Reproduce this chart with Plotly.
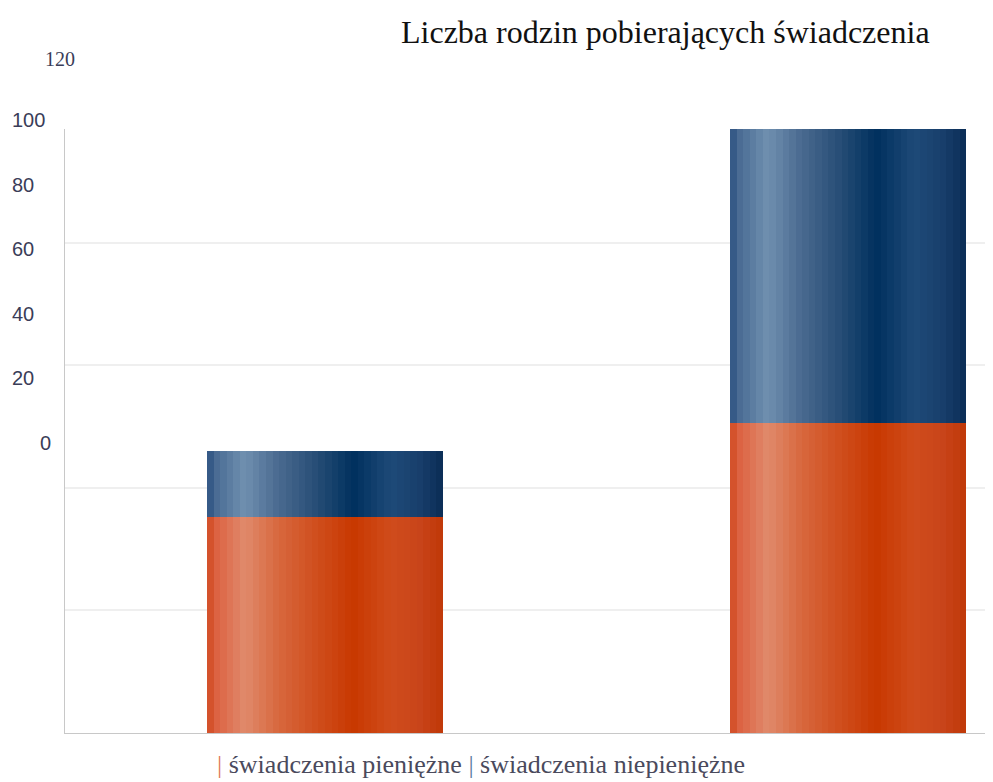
import plotly.graph_objects as go

# ---- data ----
categories = ["okres 1", "okres 2"]
series_names = ["świadczenia pieniężne", "świadczenia niepieniężne"]
values_pieniezne = [35.3, 50.6]
values_niepieniezne = [10.7, 48.0]
tick_values = [0, 20, 40, 60, 80, 100]
tick_labels = ["0", "20", "40", "60", "80", "100"]
extra_tick_label = "120"
title_text = "Liczba rodzin pobierających świadczenia"

# ---- styling (screen pixels; page body has an 8px margin) ----
OFF = 8
W, H = 993 - OFF, 782 - OFF
ML = 65 - OFF
MR = 0
MT = 50 - OFF
MB = H - (733 - OFF)
plot_w = W - ML - MR
plot_h = H - MT - MB
main_top_px = 129
label0_px, label100_px = 443, 120


def paper_y(px):
    return (H - MB - (px - OFF)) / plot_h


def paper_x(px):
    return (px - OFF - ML) / plot_w


orange_stops = [(0.00, "#d04a20"), (0.04, "#dc6242"), (0.16, "#e08a6c"),
                (0.30, "#d8683e"), (0.45, "#d05020"), (0.62, "#c83800"),
                (0.78, "#d04c1c"), (0.90, "#c8441a"), (1.00, "#c03808")]
blue_stops = [(0.00, "#2c5080"), (0.04, "#4a6c94"), (0.16, "#7090b0"),
              (0.30, "#4a6a90"), (0.45, "#2a5078"), (0.62, "#00305e"),
              (0.78, "#1e4a78"), (0.90, "#183f6c"), (1.00, "#0a2c55")]
legend_colors = ["#e07a5a", "#5a7aa0"]


def hex2rgb(h):
    h = h.lstrip("#")
    return tuple(int(h[i:i + 2], 16) for i in (0, 2, 4))


def interp(stops, t):
    for (t0, c0), (t1, c1) in zip(stops[:-1], stops[1:]):
        if t0 <= t <= t1:
            f = 0 if t1 == t0 else (t - t0) / (t1 - t0)
            a, b = hex2rgb(c0), hex2rgb(c1)
            return "rgb(%d,%d,%d)" % tuple(round(a[k] + (b[k] - a[k]) * f) for k in range(3))
    return stops[-1][1]


bar_w = 0.451
N = 36
fig = go.Figure()
bases = [0] * len(categories)
for vals, stops in [(values_pieniezne, orange_stops), (values_niepieniezne, blue_stops)]:
    for i in range(N):
        t = (i + 0.5) / N
        fig.add_trace(go.Bar(
            x=categories, y=vals, base=bases,
            offset=-bar_w / 2 + i * bar_w / N, width=bar_w / N * 1.02,
            marker=dict(color=interp(stops, t), line=dict(width=0)),
            showlegend=False, hoverinfo="skip"))
    bases = [b + v for b, v in zip(bases, vals)]

ymax = 98.6
fig.update_layout(
    width=W, height=H,
    margin=dict(l=ML, r=MR, t=MT, b=MB),
    paper_bgcolor="white", plot_bgcolor="rgba(0,0,0,0)",
    barmode="overlay", bargap=0,
    showlegend=False,
    xaxis=dict(type="category", range=[-0.497, 1.277], showticklabels=False,
               showgrid=False, zeroline=False, showline=True,
               linecolor="#c8c8c8", linewidth=1, ticks=""),
    yaxis=dict(domain=[0, paper_y(main_top_px)], range=[0, ymax], dtick=20,
               showticklabels=False, showgrid=True, gridcolor="#efefef",
               gridwidth=2, zeroline=False, showline=True,
               linecolor="#c8c8c8", linewidth=1, ticks=""),
    yaxis2=dict(domain=[paper_y(label0_px), paper_y(label100_px)], range=[0, 100],
                anchor="free", position=0, visible=False, showgrid=False),
)

annotations = []
for v, lab in zip(tick_values, tick_labels):
    if v == 0:
        ax, anc = paper_x(53), "right"
    else:
        ax, anc = paper_x(10), "left"
    annotations.append(dict(x=ax, xref="paper", y=v, yref="y2", text=lab,
                            showarrow=False, xanchor=anc, yanchor="middle",
                            font=dict(family="Liberation Sans, Arial", size=20, color="#3a3d58")))
annotations.append(dict(x=paper_x(43), xref="paper", y=paper_y(59), yref="paper",
                        text=extra_tick_label, showarrow=False, xanchor="left", yanchor="middle",
                        font=dict(family="Liberation Serif, Times New Roman", size=20, color="#3a3d58")))
annotations.append(dict(x=paper_x(665), xref="paper", y=paper_y(32), yref="paper",
                        text=title_text, showarrow=False, xanchor="center", yanchor="middle",
                        font=dict(family="Liberation Serif, Times New Roman", size=32, color="#111111")))
legend_text = " ".join("<span style='color:%s'>|</span> %s" % (c, n)
                       for c, n in zip(legend_colors, series_names))
annotations.append(dict(x=paper_x(481), xref="paper", y=paper_y(764), yref="paper",
                        text=legend_text, showarrow=False, xanchor="center", yanchor="middle",
                        font=dict(family="Liberation Serif, Times New Roman", size=26, color="#4a4a5c")))
fig.update_layout(annotations=annotations)

fig.write_html("out.html")
